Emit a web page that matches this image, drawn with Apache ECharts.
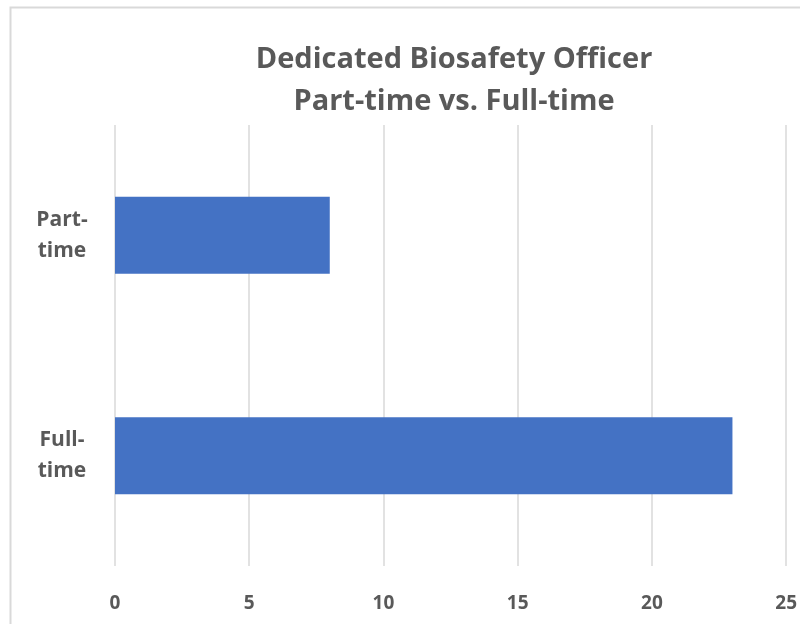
<!DOCTYPE html>
<html>
<head>
<meta charset="utf-8">
<script src="https://cdn.jsdelivr.net/npm/echarts@6/dist/echarts.min.js"></script>
<style>
  html, body { margin: 0; padding: 0; background: #fff; }
  #chart { width: 800px; height: 624px; }
</style>
</head>
<body>
<div id="chart"></div>
<script>
const categories = ['Full-\ntime', 'Part-\ntime']
const values = [23, 8]
const xTicks = [0, 5, 10, 15, 20, 25]

const myChart = echarts.init(document.getElementById('chart'))
myChart.setOption({
  animation: false,
  title: {
    text: 'Dedicated Biosafety Officer\nPart-time vs. Full-time',
    left: 449,
    textAlign: 'center',
    top: 34,
    textStyle: {
      fontFamily: 'Open Sans',
      fontSize: 29,
      fontWeight: 'bold',
      color: '#595959',
      lineHeight: 42,
    },
  },
  graphic: [
    {
      type: 'rect',
      shape: { x: 10.5, y: 7.5, width: 820, height: 640 },
      style: { fill: 'none', stroke: '#d9d9d9', lineWidth: 2 },
      silent: true,
    },
  ],
  grid: { left: 115, right: 11, top: 125, bottom: 58, containLabel: false },
  xAxis: {
    type: 'value',
    min: xTicks[0],
    max: xTicks[xTicks.length - 1],
    interval: 5,
    axisLine: { show: false },
    axisTick: { show: false },
    splitLine: { show: true, lineStyle: { color: '#d9d9d9', width: 1.5 } },
    axisLabel: {
      margin: 28,
      fontFamily: 'Open Sans',
      fontSize: 19,
      fontWeight: 'bold',
      color: '#595959',
    },
  },
  yAxis: {
    type: 'category',
    data: categories,
    axisLine: { show: false },
    axisTick: { show: false },
    axisLabel: {
      margin: 53,
      align: 'center',
      fontFamily: 'Open Sans',
      fontSize: 21,
      fontWeight: 'bold',
      color: '#595959',
      lineHeight: 31,
    },
  },
  series: [
    {
      type: 'bar',
      data: values,
      barWidth: '35%',
      itemStyle: { color: '#4472c4' },
    },
  ],
})
</script>
</body>
</html>
